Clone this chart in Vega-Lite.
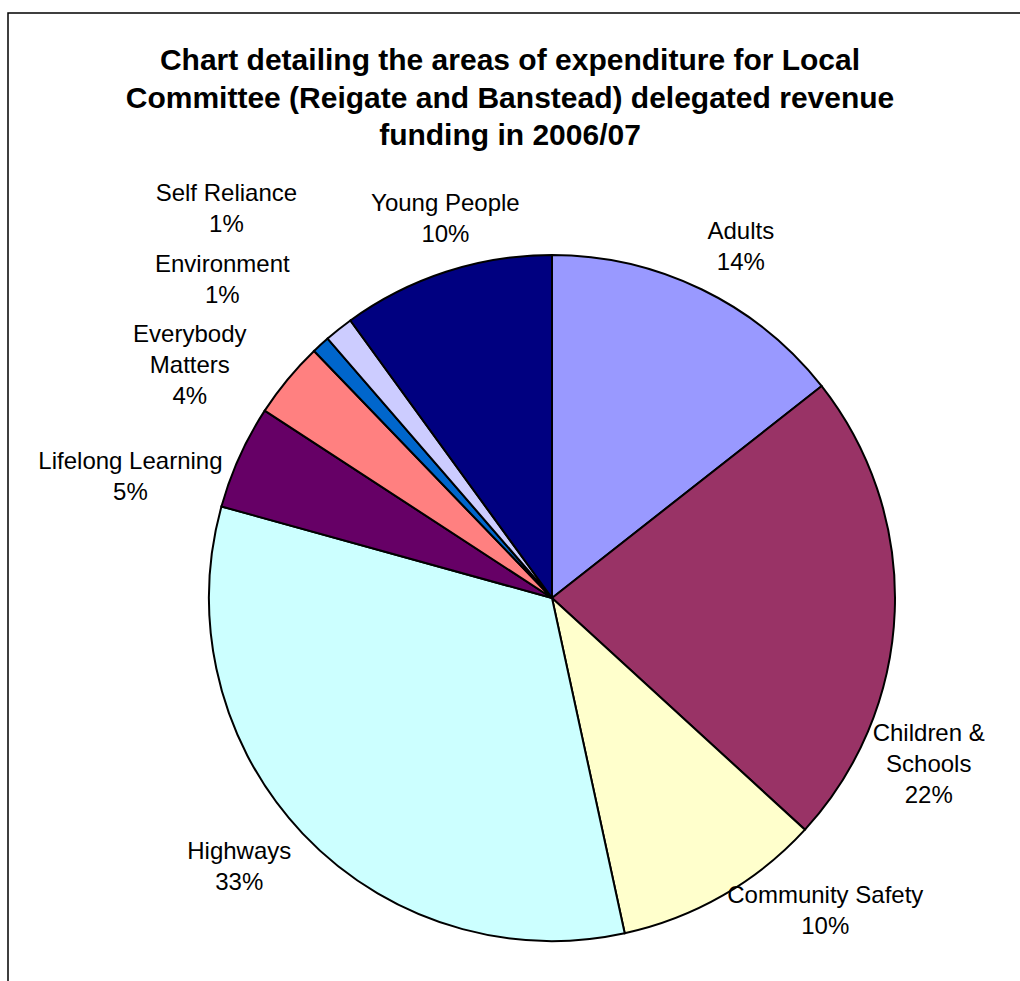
{
  "$schema": "https://vega.github.io/schema/vega-lite/v6.json",
  "width": 1088,
  "height": 1170,
  "autosize": "none",
  "padding": {"left": 8, "top": 13, "right": -76, "bottom": -202},
  "background": "white",
  "view": {"stroke": "black", "strokeWidth": 1.5},
  "title": {
    "text": ["Chart detailing the areas of expenditure for Local", "Committee (Reigate and Banstead) delegated revenue", "funding in 2006/07"],
    "font": "Liberation Sans",
    "fontSize": 30,
    "fontWeight": "bold",
    "lineHeight": 37.5,
    "color": "black",
    "anchor": "middle",
    "offset": -138,
    "dx": -42
  },
  "config": {"view": {"stroke": "black", "strokeWidth": 1.5}},
  "data": {
    "values": [
      {"n": 1, "category": "Adults", "value": 14.4, "label": "Adults\n14%"},
      {"n": 2, "category": "Children & Schools", "value": 22.4, "label": "Children &\nSchools\n22%"},
      {"n": 3, "category": "Community Safety", "value": 9.8, "label": "Community Safety\n10%"},
      {"n": 4, "category": "Highways", "value": 32.7, "label": "Highways\n33%"},
      {"n": 5, "category": "Lifelong Learning", "value": 4.9, "label": "Lifelong Learning\n5%"},
      {"n": 6, "category": "Everybody Matters", "value": 3.6, "label": "Everybody\nMatters\n4%"},
      {"n": 7, "category": "Environment", "value": 0.85, "label": "Environment\n1%"},
      {"n": 8, "category": "Self Reliance", "value": 1.35, "label": "Self Reliance\n1%"},
      {"n": 9, "category": "Young People", "value": 10.0, "label": "Young People\n10%"}
    ]
  },
  "encoding": {
    "theta": {"field": "value", "type": "quantitative", "stack": true},
    "order": {"field": "n", "type": "quantitative"},
    "detail": {"field": "category", "type": "nominal"}
  },
  "layer": [
    {
      "mark": {"type": "arc", "outerRadius": 343, "stroke": "black", "strokeWidth": 2},
      "encoding": {
        "color": {
          "field": "category",
          "type": "nominal",
          "scale": {
            "domain": ["Adults", "Children & Schools", "Community Safety", "Highways", "Lifelong Learning", "Everybody Matters", "Environment", "Self Reliance", "Young People"],
            "range": ["#9999FF", "#993366", "#FFFFCC", "#CCFFFF", "#660066", "#FF8080", "#0066CC", "#CCCCFF", "#000080"]
          },
          "legend": null
        }
      }
    },
    {
      "mark": {"type": "text", "radius": 400, "dx": 14, "dy": -6.5, "font": "Liberation Sans", "fontSize": 24, "lineHeight": 31, "lineBreak": "\n", "align": "center", "baseline": "middle", "color": "black"},
      "encoding": {"text": {"condition": {"test": "datum.category === 'Adults'", "field": "label", "type": "nominal"}, "value": ""}}
    },
    {
      "mark": {"type": "text", "radius": 400, "dx": -23, "dy": 121, "font": "Liberation Sans", "fontSize": 24, "lineHeight": 31, "lineBreak": "\n", "align": "center", "baseline": "middle", "color": "black"},
      "encoding": {"text": {"condition": {"test": "datum.category === 'Children & Schools'", "field": "label", "type": "nominal"}, "value": ""}}
    },
    {
      "mark": {"type": "text", "radius": 400, "dx": 74, "dy": -48.5, "font": "Liberation Sans", "fontSize": 24, "lineHeight": 31, "lineBreak": "\n", "align": "center", "baseline": "middle", "color": "black"},
      "encoding": {"text": {"condition": {"test": "datum.category === 'Community Safety'", "field": "label", "type": "nominal"}, "value": ""}}
    },
    {
      "mark": {"type": "text", "radius": 400, "dx": -22, "dy": -20.5, "font": "Liberation Sans", "fontSize": 24, "lineHeight": 31, "lineBreak": "\n", "align": "center", "baseline": "middle", "color": "black"},
      "encoding": {"text": {"condition": {"test": "datum.category === 'Highways'", "field": "label", "type": "nominal"}, "value": ""}}
    },
    {
      "mark": {"type": "text", "radius": 400, "dx": -57, "dy": 28.5, "font": "Liberation Sans", "fontSize": 24, "lineHeight": 31, "lineBreak": "\n", "align": "center", "baseline": "middle", "color": "black"},
      "encoding": {"text": {"condition": {"test": "datum.category === 'Lifelong Learning'", "field": "label", "type": "nominal"}, "value": ""}}
    },
    {
      "mark": {"type": "text", "radius": 400, "dx": -54, "dy": -8, "font": "Liberation Sans", "fontSize": 24, "lineHeight": 31, "lineBreak": "\n", "align": "center", "baseline": "middle", "color": "black"},
      "encoding": {"text": {"condition": {"test": "datum.category === 'Everybody Matters'", "field": "label", "type": "nominal"}, "value": ""}}
    },
    {
      "mark": {"type": "text", "radius": 400, "dx": -60, "dy": -37.5, "font": "Liberation Sans", "fontSize": 24, "lineHeight": 31, "lineBreak": "\n", "align": "center", "baseline": "middle", "color": "black"},
      "encoding": {"text": {"condition": {"test": "datum.category === 'Environment'", "field": "label", "type": "nominal"}, "value": ""}}
    },
    {
      "mark": {"type": "text", "radius": 400, "dx": -77, "dy": -90.5, "font": "Liberation Sans", "fontSize": 24, "lineHeight": 31, "lineBreak": "\n", "align": "center", "baseline": "middle", "color": "black"},
      "encoding": {"text": {"condition": {"test": "datum.category === 'Self Reliance'", "field": "label", "type": "nominal"}, "value": ""}}
    },
    {
      "mark": {"type": "text", "radius": 400, "dx": 17, "dy": -13.5, "font": "Liberation Sans", "fontSize": 24, "lineHeight": 31, "lineBreak": "\n", "align": "center", "baseline": "middle", "color": "black"},
      "encoding": {"text": {"condition": {"test": "datum.category === 'Young People'", "field": "label", "type": "nominal"}, "value": ""}}
    }
  ]
}
